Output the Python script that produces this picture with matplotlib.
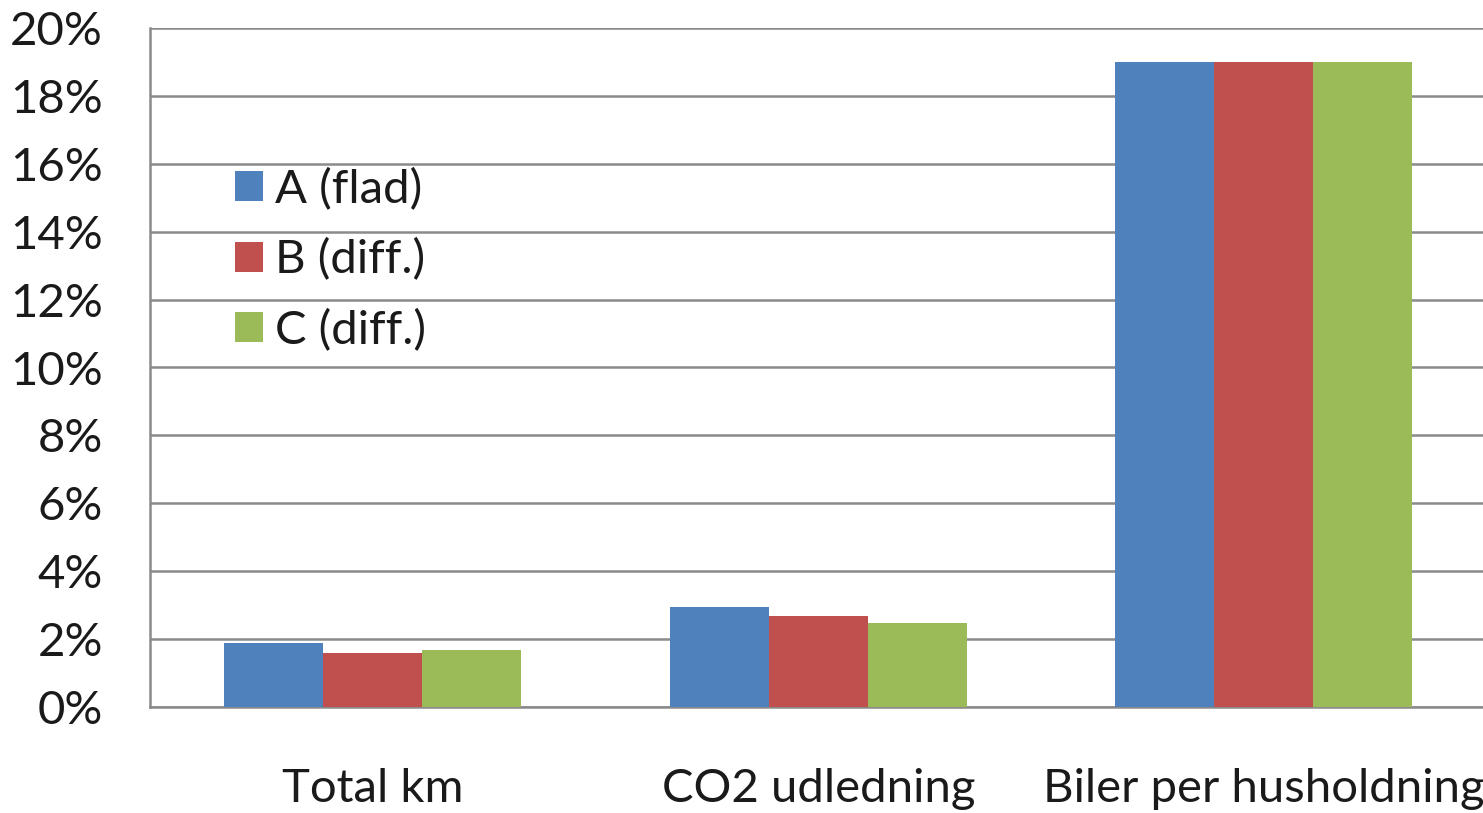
import matplotlib
matplotlib.use("Agg")
import matplotlib.pyplot as plt
import numpy as np
from matplotlib.ticker import FuncFormatter, MultipleLocator

categories = ["Total km", "CO2 udledning", "Biler per husholdning"]
series_names = ["A (flad)", "B (diff.)", "C (diff.)"]
values_a = [1.87, 2.95, 19.0]
values_b = [1.59, 2.67, 19.0]
values_c = [1.67, 2.46, 19.0]
colors = ["#4F81BD", "#C0504D", "#9BBB59"]

plt.rcParams["font.family"] = ["Lato", "DejaVu Sans"]

W, H = 1483, 813
fig = plt.figure(figsize=(W / 100, H / 100), dpi=100)
left, right, bottom, top = 150 / W, 1486.5 / W, 1 - 706.7 / H, 1 - 28.3 / H
ax = fig.add_axes([left, bottom, right - left, top - bottom])

x = np.arange(len(categories))
bar_w = 0.2222
for i, (vals, name, col) in enumerate(zip([values_a, values_b, values_c], series_names, colors)):
    ax.bar(x + (i - 1) * bar_w, vals, width=bar_w, color=col, label=name, zorder=3,
           edgecolor="none")

text_col = "#1a1a1a"
fs = 34
ax.set_xlim(-0.5, 2.5)
ax.set_ylim(0, 20)
ax.yaxis.set_major_locator(MultipleLocator(2))
ax.yaxis.set_major_formatter(FuncFormatter(lambda v, p: f"{v:.0f}%"))
ax.grid(axis="y", color="#8a8a8a", linewidth=1.8, zorder=0)
ax.set_xticks(x)
ax.set_xticklabels(categories)
ax.tick_params(axis="both", length=0, labelsize=fs, colors=text_col)
ax.tick_params(axis="x", pad=44)
ax.tick_params(axis="y", pad=34)
for side in ["top", "right"]:
    ax.spines[side].set_visible(False)
for side in ["left", "bottom"]:
    ax.spines[side].set_color("#8a8a8a")
    ax.spines[side].set_linewidth(1.8)

leg = ax.legend(loc="upper left", bbox_to_anchor=(235 / W, 1 - 168 / H),
                bbox_transform=fig.transFigure, frameon=False, fontsize=fs,
                handlelength=0.6, handleheight=0.6, handletextpad=0.25,
                labelspacing=0.58, borderaxespad=0, borderpad=0)
for t in leg.get_texts():
    t.set_color(text_col)

fig.savefig("out.png", dpi=100, facecolor="white")
